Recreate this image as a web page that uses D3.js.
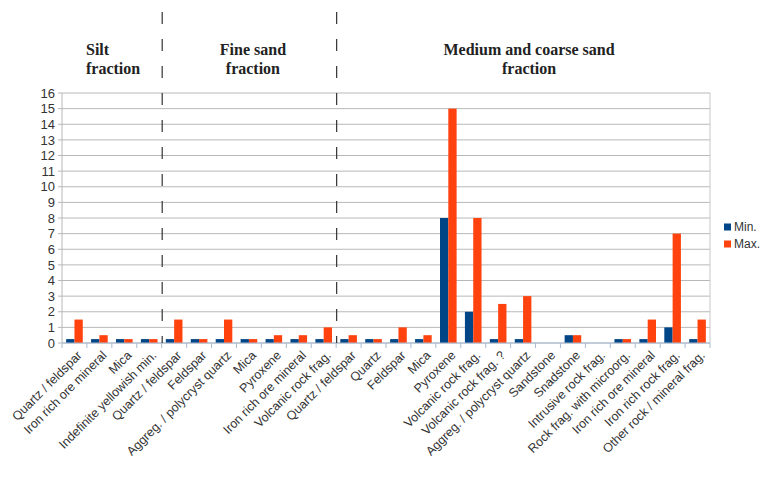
<!DOCTYPE html>
<html>
<head>
<meta charset="utf-8">
<script src="https://cdn.jsdelivr.net/npm/d3@7/dist/d3.min.js"></script>
<style>
  html, body { margin: 0; padding: 0; background: #fff; }
  svg { display: block; }
</style>
</head>
<body>
<svg id="chart" width="764" height="483"></svg>
<script>
// Mineral categories, grouped by grain-size fraction
const categories = [
  "Quartz / feldspar", "Iron rich ore mineral", "Mica", "Indefinite yellowish min.",
  "Quartz / feldspar", "Feldspar", "Aggreg. / polycryst quartz", "Mica", "Pyroxene",
  "Iron rich ore mineral", "Volcanic rock frag.",
  "Quartz / feldspar", "Quartz", "Feldspar", "Mica", "Pyroxene", "Volcanic rock frag.",
  "Volcanic rock frag. ?", "Aggreg. / polycryst quartz", "Sandstone", "Snadstone",
  "Intrusive rock frag.", "Rock frag. with microorg.", "Iron rich ore mineral",
  "Iron rich rock frag.", "Other rock / mineral frag."
];
const minValues = [
  0.25, 0.25, 0.25, 0.25,
  0.25, 0.25, 0.25, 0.25, 0.25, 0.25, 0.25,
  0.25, 0.25, 0.25, 0.25, 8, 2, 0.25, 0.25, 0, 0.5, 0, 0.25, 0.25, 1, 0.25
];
const maxValues = [
  1.5, 0.5, 0.25, 0.25,
  1.5, 0.25, 1.5, 0.25, 0.5, 0.5, 1,
  0.5, 0.25, 1, 0.5, 15, 8, 2.5, 3, 0, 0.5, 0, 0.25, 1.5, 7, 1.5
];
const seriesNames = ["Min.", "Max."];
const yTicks = d3.range(0, 17);
// Fractions: title lines and how many categories each spans
const fractionTitles = [["Silt", "fraction"], ["Fine sand", "fraction"], ["Medium and coarse sand", "fraction"]];
const fractionSizes = [4, 7, 15];

const colors = ["#004586", "#ff420e"];
const svg = d3.select("#chart");
const margin = { left: 62, right: 54, top: 93, bottom: 140 };
const W = 764, H = 483;
const plotW = W - margin.left - margin.right;
const plotH = H - margin.top - margin.bottom;

const idx = categories.map((_, i) => i);
const x = d3.scaleBand().domain(idx).range([margin.left, margin.left + plotW]).padding(0);
const xs = d3.scaleBand().domain([0, 1]).range([0, x.bandwidth()]).paddingInner(0).paddingOuter(0.5);
const y = d3.scaleLinear().domain([0, 16]).range([margin.top + plotH, margin.top]);

// horizontal gridlines
svg.append("g")
  .selectAll("line").data(yTicks).join("line")
  .attr("x1", margin.left - 4).attr("x2", margin.left + plotW)
  .attr("y1", d => y(d)).attr("y2", d => y(d))
  .attr("stroke", "#b8b8b8").attr("stroke-width", 1);

// plot frame (left and right edges)
svg.append("line").attr("x1", margin.left).attr("x2", margin.left)
  .attr("y1", y(16)).attr("y2", y(0)).attr("stroke", "#b8b8b8");
svg.append("line").attr("x1", margin.left + plotW).attr("x2", margin.left + plotW)
  .attr("y1", y(16)).attr("y2", y(0)).attr("stroke", "#c8c8c8");

// y axis labels
const yAxis = d3.axisLeft(y).tickValues(yTicks).tickSize(0).tickPadding(7);
const gy = svg.append("g").attr("transform", `translate(${margin.left},0)`).call(yAxis);
gy.select(".domain").remove();
gy.selectAll("text").attr("font-family", "Liberation Sans, Arial, sans-serif")
  .attr("font-size", 13).attr("fill", "#333");

// bars
const series = [minValues, maxValues];
series.forEach((vals, s) => {
  svg.append("g").selectAll("rect").data(vals).join("rect")
    .attr("x", (d, i) => x(i) + xs(s))
    .attr("width", xs.bandwidth())
    .attr("y", d => y(d))
    .attr("height", d => y(0) - y(d))
    .attr("fill", colors[s]);
});

// x axis with category boundary ticks
const gx = svg.append("g").attr("transform", `translate(0,${y(0)})`);
gx.append("line").attr("x1", margin.left).attr("x2", margin.left + plotW)
  .attr("stroke", "#a9bcd6");
gx.selectAll("line.tick").data(d3.range(categories.length + 1)).join("line")
  .attr("class", "tick")
  .attr("x1", i => margin.left + i * x.bandwidth())
  .attr("x2", i => margin.left + i * x.bandwidth())
  .attr("y1", 0).attr("y2", 5)
  .attr("stroke", "#a9bcd6");

// rotated category labels
svg.append("g").selectAll("text").data(categories).join("text")
  .attr("transform", (d, i) => `translate(${x(i) + x.bandwidth() / 2 + 5},${y(0) + 10}) rotate(-45)`)
  .attr("text-anchor", "end")
  .attr("dy", "0.35em")
  .attr("font-family", "Liberation Sans, Arial, sans-serif")
  .attr("font-size", 12.5)
  .attr("fill", "#333")
  .text(d => d);

// fraction separators and titles
let start = 0;
const titleShift = [24, 4, 6];
fractionSizes.forEach((n, k) => {
  const x0 = margin.left + start * x.bandwidth();
  const x1 = margin.left + (start + n) * x.bandwidth();
  if (k > 0) {
    svg.append("line").attr("x1", x0 + 0.5).attr("x2", x0 + 0.5)
      .attr("y1", 12).attr("y2", y(0))
      .attr("stroke", "#333").attr("stroke-width", 1.2)
      .attr("stroke-dasharray", "12,15");
  }
  const t = svg.append("text")
    .attr("font-family", "Liberation Serif, Times New Roman, serif")
    .attr("font-weight", "bold").attr("font-size", 16).attr("fill", "#222");
  const anchorLeft = k === 0;
  const cx = anchorLeft ? x0 + titleShift[k] : (x0 + x1) / 2 + titleShift[k];
  t.attr("text-anchor", anchorLeft ? "start" : "middle");
  fractionTitles[k].forEach((line, j) => {
    t.append("tspan").attr("x", cx).attr("y", 55 + j * 19).text(line);
  });
  start += n;
});

// legend
const lg = svg.append("g").attr("transform", "translate(724,227)");
seriesNames.forEach((name, s) => {
  lg.append("rect").attr("x", 0).attr("y", s * 17 - 3.5).attr("width", 7).attr("height", 7)
    .attr("fill", colors[s]);
  lg.append("text").attr("x", 10).attr("y", s * 17).attr("dy", "0.35em")
    .attr("font-family", "Liberation Sans, Arial, sans-serif")
    .attr("font-size", 12).attr("fill", "#333").text(name);
});
</script>
</body>
</html>
